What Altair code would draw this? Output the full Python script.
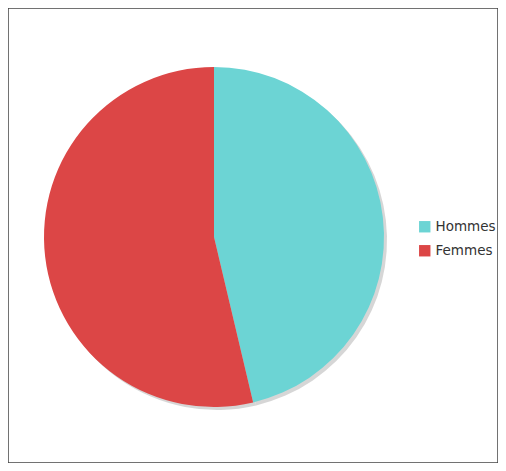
import altair as alt
import pandas as pd

categories = ["Hommes", "Femmes"]
values = [46.3, 53.7]
colors = ["#6CD4D4", "#DC4646"]

df = pd.DataFrame({"cat": categories, "val": values, "ord": list(range(len(categories)))})

cx, cy, r = 206, 229, 170

shadow = alt.Chart(df).mark_arc(radius=r, color="#bbbbbb", opacity=0.6).encode(
    theta=alt.Theta("val:Q", stack=True),
    order=alt.Order("ord:Q"),
    x=alt.value(cx + 3),
    y=alt.value(cy + 3),
)

pie = alt.Chart(df).mark_arc(radius=r).encode(
    theta=alt.Theta("val:Q", stack=True),
    order=alt.Order("ord:Q"),
    color=alt.Color(
        "cat:N",
        scale=alt.Scale(domain=categories, range=colors),
        legend=alt.Legend(
            title=None,
            orient="none",
            legendX=410,
            legendY=212,
            symbolType="square",
            symbolSize=130,
            symbolStrokeWidth=0,
            labelFontSize=13.5,
            labelFont="DejaVu Sans",
            labelColor="#333333",
            rowPadding=9,
            labelOffset=4,
        ),
    ),
    x=alt.value(cx),
    y=alt.value(cy),
)

chart = alt.layer(shadow, pie).properties(
    width=490,
    height=455,
    autosize=alt.AutoSizeParams(type="fit", contains="padding"),
    padding=0,
).configure_view(stroke="#444444", strokeWidth=1.5)

chart.save("out.html", embed_options={"renderer": "svg", "actions": False})
